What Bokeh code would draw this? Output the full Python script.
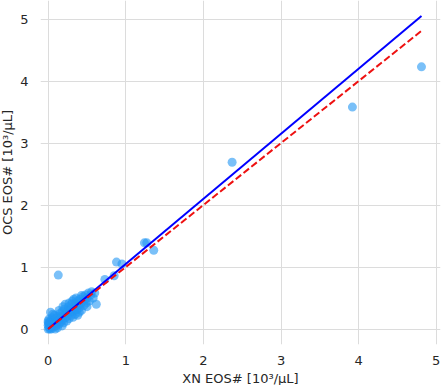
from bokeh.plotting import figure
from bokeh.embed import file_html
from bokeh.resources import INLINE
from bokeh.models import Range1d, FixedTicker

# --- data ---
xn_eos = [0.00, 0.01, 0.00, 0.02, 0.00, 0.01, 0.03, 0.04, 0.03, 0.05, 0.05, 0.06, 0.07, 0.07, 0.08,
          0.08, 0.09, 0.10, 0.10, 0.11, 0.12, 0.12, 0.13, 0.14, 0.15, 0.15, 0.16, 0.17, 0.18, 0.18,
          0.19, 0.20, 0.20, 0.21, 0.22, 0.23, 0.24, 0.25, 0.25, 0.26, 0.27, 0.28, 0.29, 0.30, 0.30,
          0.31, 0.32, 0.33, 0.34, 0.35, 0.35, 0.36, 0.37, 0.38, 0.38, 0.39, 0.40, 0.41, 0.42, 0.43,
          0.44, 0.45, 0.46, 0.47, 0.48, 0.49, 0.50, 0.52, 0.53, 0.55, 0.56, 0.58, 0.60, 0.62, 0.27,
          0.31, 0.03, 0.06, 0.04, 0.02, 0.01, 0.00, 0.09, 0.14, 0.22, 0.19, 0.36, 0.43, 0.50, 0.40,
          0.33,
          0.13, 0.73, 0.85, 0.88, 0.95, 1.24, 1.27, 1.36, 2.37, 3.92, 4.81]
ocs_eos = [0.00, 0.03, 0.06, 0.10, 0.13, 0.16, 0.02, 0.08, 0.13, 0.05, 0.18, 0.11, 0.03, 0.15, 0.08,
           0.22, 0.12, 0.05, 0.17, 0.10, 0.20, 0.02, 0.14, 0.08, 0.25, 0.16, 0.11, 0.20, 0.05, 0.28,
           0.15, 0.22, 0.10, 0.32, 0.18, 0.26, 0.13, 0.30, 0.21, 0.36, 0.17, 0.27, 0.33, 0.22, 0.40,
           0.28, 0.19, 0.35, 0.30, 0.42, 0.24, 0.37, 0.31, 0.45, 0.22, 0.38, 0.34, 0.48, 0.41, 0.30,
           0.44, 0.52, 0.38, 0.47, 0.55, 0.42, 0.50, 0.58, 0.45, 0.55, 0.60, 0.50, 0.58, 0.40, 0.42,
           0.45, 0.27, 0.24, 0.00, 0.00, 0.08, 0.10, 0.00, 0.30, 0.40, 0.36, 0.50, 0.54, 0.36, 0.27,
           0.48,
           0.87, 0.80, 0.86, 1.08, 1.05, 1.39, 1.39, 1.27, 2.69, 3.58, 4.23]

# regression fit (blue) and identity line (red dashed)
fit_slope = 1.05
fit_intercept = 0.0
line_x = [min(xn_eos), max(xn_eos)]
fit_y = [fit_slope * v + fit_intercept for v in line_x]
identity_y = list(line_x)

ticks = [0, 1, 2, 3, 4, 5]

p = figure(
    frame_width=400, frame_height=344,
    x_range=Range1d(-0.099, 5.055), y_range=Range1d(-0.25, 5.30),
    output_backend="svg", toolbar_location=None,
    min_border_left=33, min_border_right=3, min_border_top=0, min_border_bottom=41,
)
p.styles = {"margin-left": "-3px"}

p.scatter(xn_eos, ocs_eos, size=9, fill_color="#2196F3", fill_alpha=0.6, line_color=None)
p.line(line_x, fit_y, line_color="#0000ff", line_width=2)
p.line(line_x, identity_y, line_color="#ee1111", line_width=2, line_dash="7 3")

p.outline_line_color = None
p.background_fill_color = "white"
p.border_fill_color = "white"

for ax in (p.xaxis[0], p.yaxis[0]):
    ax.ticker = FixedTicker(ticks=ticks)
    ax.axis_line_color = None
    ax.major_tick_line_color = None
    ax.minor_tick_line_color = None
    ax.major_label_text_font = "DejaVu Sans"
    ax.major_label_text_font_size = "13px"
    ax.major_label_text_color = "#262626"
    ax.axis_label_text_font = "DejaVu Sans"
    ax.axis_label_text_font_size = "13px"
    ax.axis_label_text_font_style = "normal"
    ax.axis_label_text_color = "#262626"

p.xaxis[0].major_label_standoff = 5
p.xaxis[0].axis_label = "XN EOS# [10³/μL]"
p.xaxis[0].axis_label_standoff = 3
p.yaxis[0].major_label_standoff = 6
p.yaxis[0].axis_label = "OCS EOS# [10³/μL]"
p.yaxis[0].axis_label_standoff = 2

p.xgrid.grid_line_color = "#dcdcdc"
p.ygrid.grid_line_color = "#dcdcdc"
p.xgrid.grid_line_width = 1
p.ygrid.grid_line_width = 1

open("out.html", "w").write(file_html(p, INLINE))
